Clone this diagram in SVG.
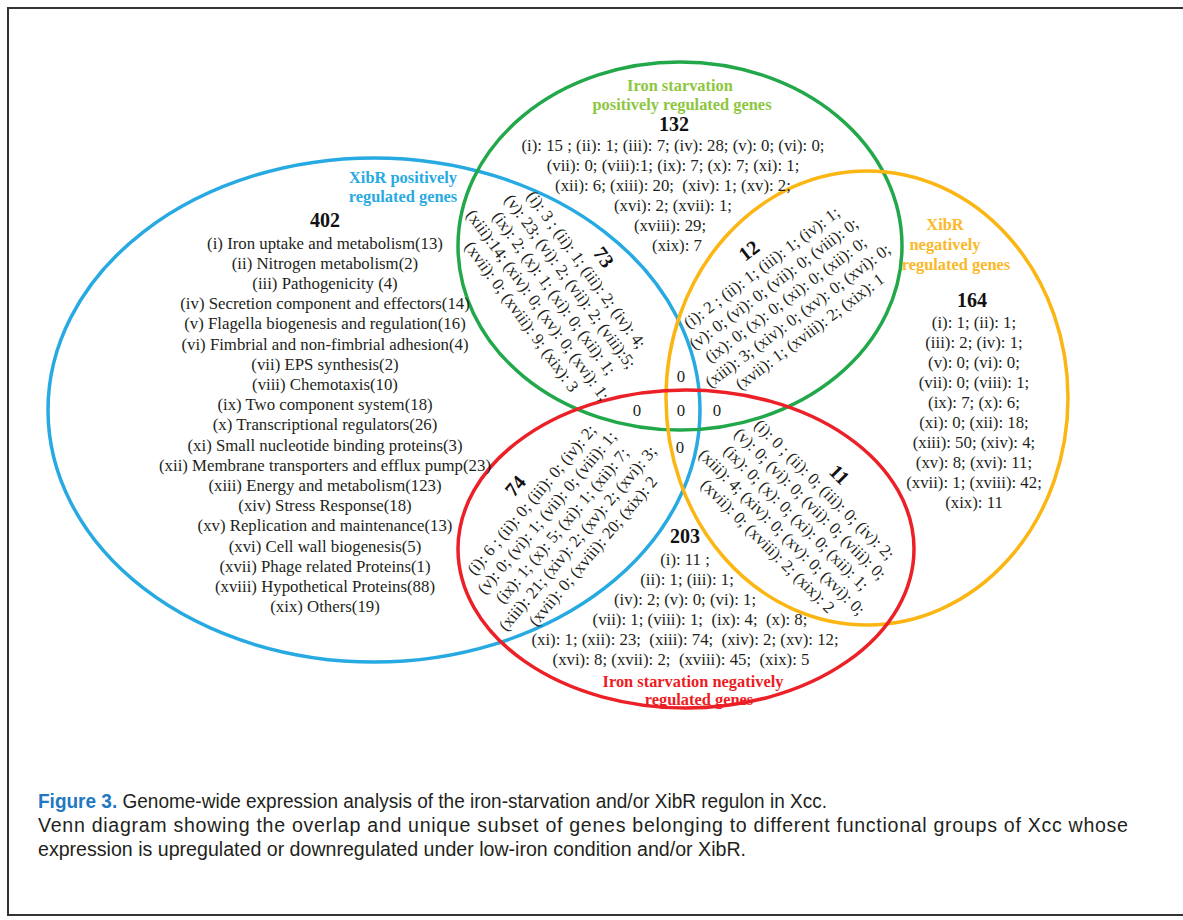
<svg xmlns="http://www.w3.org/2000/svg" width="1183" height="920" viewBox="0 0 1183 920">
<style>
.t{font-family:"Liberation Serif","Times New Roman",serif;font-size:16.8px;text-anchor:middle;fill:#231f20;white-space:pre}
.n{font-family:"Liberation Serif","Times New Roman",serif;font-size:20px;font-weight:bold;text-anchor:middle;fill:#111}
.h{font-family:"Liberation Serif","Times New Roman",serif;font-size:16.4px;font-weight:bold;text-anchor:middle}
.e{fill:none;stroke-width:3.5}
.cap{font-family:"Liberation Sans",Arial,sans-serif;font-size:19.6px;fill:#231f20}
</style>
<rect x="0" y="0" width="1183" height="920" fill="#fff"/>
<rect x="8" y="8" width="1200" height="907" fill="none" stroke="#333" stroke-width="2"/>

<g id="set-xibr-positive">
<ellipse class="e" cx="374" cy="410" rx="326" ry="252" stroke="#27a9e1"/>
<text class="h" x="403" y="183" fill="#29aae2">XibR positively</text>
<text class="h" x="403" y="202" fill="#29aae2">regulated genes</text>
</g>
<g id="set-iron-positive">
<ellipse class="e" cx="680" cy="246" rx="222" ry="184" stroke="#22a84a"/>
<text class="h" x="680" y="91" fill="#8dc63f">Iron starvation</text>
<text class="h" x="682" y="110" fill="#8dc63f">positively regulated genes</text>
</g>
<g id="set-xibr-negative">
<ellipse class="e" cx="867" cy="398" rx="201" ry="227" stroke="#fbb614"/>
<text class="h" x="945" y="230" fill="#fbb829">XibR</text>
<text class="h" x="945" y="250" fill="#fbb829">negatively</text>
<text class="h" x="956" y="270" fill="#fbb829">regulated genes</text>
</g>
<g id="set-iron-negative">
<ellipse class="e" cx="686" cy="549" rx="228" ry="159" stroke="#ec2027"/>
<text class="h" x="693" y="687" fill="#ed1c24">Iron starvation negatively</text>
<text class="h" x="699" y="705" fill="#ed1c24">regulated genes</text>
</g>

<g id="region-402">
<text class="n" x="325" y="227">402</text>
<text class="t" x="325" y="248.5">(i) Iron uptake and metabolism(13)</text>
<text class="t" x="325" y="268.7">(ii) Nitrogen metabolism(2)</text>
<text class="t" x="325" y="288.9">(iii) Pathogenicity (4)</text>
<text class="t" x="325" y="309.1">(iv) Secretion component and effectors(14)</text>
<text class="t" x="325" y="329.3">(v) Flagella biogenesis and regulation(16)</text>
<text class="t" x="325" y="349.5">(vi) Fimbrial and non-fimbrial adhesion(4)</text>
<text class="t" x="325" y="369.7">(vii) EPS synthesis(2)</text>
<text class="t" x="325" y="389.9">(viii) Chemotaxis(10)</text>
<text class="t" x="325" y="410.1">(ix) Two component system(18)</text>
<text class="t" x="325" y="430.3">(x) Transcriptional regulators(26)</text>
<text class="t" x="325" y="450.5">(xi) Small nucleotide binding proteins(3)</text>
<text class="t" x="325" y="470.7">(xii) Membrane transporters and efflux pump(23)</text>
<text class="t" x="325" y="490.9">(xiii) Energy and metabolism(123)</text>
<text class="t" x="325" y="511.1">(xiv) Stress Response(18)</text>
<text class="t" x="325" y="531.3">(xv) Replication and maintenance(13)</text>
<text class="t" x="325" y="551.5">(xvi) Cell wall biogenesis(5)</text>
<text class="t" x="325" y="571.7">(xvii) Phage related Proteins(1)</text>
<text class="t" x="325" y="591.9">(xviii) Hypothetical Proteins(88)</text>
<text class="t" x="325" y="612.1">(xix) Others(19)</text>
</g>

<g id="region-132">
<text class="n" x="674" y="131">132</text>
<text class="t" x="673" y="151">(i): 15 ; (ii): 1; (iii): 7; (iv): 28; (v): 0; (vi): 0;</text>
<text class="t" x="673" y="171">(vii): 0; (viii):1; (ix): 7; (x): 7; (xi): 1;</text>
<text class="t" x="673" y="191">(xii): 6; (xiii): 20;  (xiv): 1; (xv): 2;</text>
<text class="t" x="673" y="211">(xvi): 2; (xvii): 1;</text>
<text class="t" x="670" y="231">(xviii): 29;</text>
<text class="t" x="677" y="251">(xix): 7</text>
</g>

<g id="region-164">
<text class="n" x="972" y="307">164</text>
<text class="t" x="974" y="328">(i): 1; (ii): 1;</text>
<text class="t" x="974" y="348">(iii): 2; (iv): 1;</text>
<text class="t" x="974" y="368">(v): 0; (vi): 0;</text>
<text class="t" x="974" y="388">(vii): 0; (viii): 1;</text>
<text class="t" x="974" y="408">(ix): 7; (x): 6;</text>
<text class="t" x="974" y="428">(xi): 0; (xii): 18;</text>
<text class="t" x="974" y="448">(xiii): 50; (xiv): 4;</text>
<text class="t" x="974" y="468">(xv): 8; (xvi): 11;</text>
<text class="t" x="974" y="488">(xvii): 1; (xviii): 42;</text>
<text class="t" x="974" y="508">(xix): 11</text>
</g>

<g id="region-203">
<text class="n" x="685" y="543">203</text>
<text class="t" x="685" y="565">(i): 11 ;</text>
<text class="t" x="687" y="585">(ii): 1; (iii): 1;</text>
<text class="t" x="685" y="605">(iv): 2; (v): 0; (vi): 1;</text>
<text class="t" x="700" y="625">(vii): 1; (viii): 1;  (ix): 4;  (x): 8;</text>
<text class="t" x="685" y="645">(xi): 1; (xii): 23;  (xiii): 74;  (xiv): 2; (xv): 12;</text>
<text class="t" x="681" y="665">(xvi): 8; (xvii): 2;  (xviii): 45;  (xix): 5</text>
</g>

<g id="region-73" transform="translate(586,270) rotate(54)">
<text class="n" x="0" y="-15">73</text>
<text class="t" x="0" y="5">(i): 3 ; (ii): 1; (iii): 2; (iv): 4;</text>
<text class="t" x="0" y="25">(v): 23; (vi): 2; (vii): 2; (viii):5;</text>
<text class="t" x="0" y="45">(ix): 2; (x): 1; (xi): 0; (xii): 1;</text>
<text class="t" x="0" y="65">(xiii):14; (xiv): 0; (xv): 0; (xvi): 1;</text>
<text class="t" x="0" y="85">(xvii): 0; (xviii): 9; (xix): 3</text>
</g>

<g id="region-12" transform="translate(762,268) rotate(-37)">
<text class="n" x="0" y="-15">12</text>
<text class="t" x="0" y="5">(i): 2 ; (ii): 1; (iii): 1; (iv): 1;</text>
<text class="t" x="0" y="25">(v): 0; (vi): 0; (vii): 0; (viii): 0;</text>
<text class="t" x="0" y="45">(ix): 0; (x): 0; (xi): 0; (xii): 0;</text>
<text class="t" x="0" y="65">(xiii): 3; (xiv): 0; (xv): 0; (xvi): 0;</text>
<text class="t" x="0" y="85">(xvii): 1; (xviii): 2; (xix): 1</text>
</g>

<g id="region-74" transform="translate(532,500) rotate(-50)">
<text class="n" x="0" y="-15">74</text>
<text class="t" x="0" y="5">(i): 6 ; (ii): 0; (iii): 0; (iv): 2;</text>
<text class="t" x="0" y="25">(v): 0; (vi): 1; (vii): 0; (viii): 1;</text>
<text class="t" x="0" y="45">(ix): 1; (x): 5; (xi): 1; (xii): 7;</text>
<text class="t" x="0" y="65">(xiii): 21; (xiv): 2; (xv): 2; (xvi): 3;</text>
<text class="t" x="0" y="85">(xvii): 0; (xviii): 20; (xix): 2</text>
</g>

<g id="region-11" transform="translate(824,490) rotate(45)">
<text class="n" x="0" y="-15">11</text>
<text class="t" x="0" y="5">(i): 0 ; (ii): 0; (iii): 0; (iv): 2;</text>
<text class="t" x="0" y="25">(v): 0; (vi): 0; (vii): 0; (viii): 0;</text>
<text class="t" x="0" y="45">(ix): 0; (x): 0; (xi): 0; (xii): 1;</text>
<text class="t" x="0" y="65">(xiii): 4; (xiv): 0; (xv): 0; (xvi): 0;</text>
<text class="t" x="0" y="85">(xvii): 0; (xviii): 2; (xix): 2</text>
</g>

<g id="region-zeros">
<text class="t" x="681" y="382">0</text>
<text class="t" x="637" y="416">0</text>
<text class="t" x="681" y="416">0</text>
<text class="t" x="717" y="416">0</text>
<text class="t" x="680" y="453">0</text>
</g>

<g id="caption">
<text class="cap" x="38" y="808" textLength="789" lengthAdjust="spacingAndGlyphs"><tspan font-weight="bold" fill="#1f78c1">Figure 3.</tspan> Genome-wide expression analysis of the iron-starvation and/or XibR regulon in Xcc.</text>
<text class="cap" x="38" y="832" textLength="1090" lengthAdjust="spacing">Venn diagram showing the overlap and unique subset of genes belonging to different functional groups of Xcc whose</text>
<text class="cap" x="38" y="856">expression is upregulated or downregulated under low-iron condition and/or XibR.</text>
</g>
</svg>
